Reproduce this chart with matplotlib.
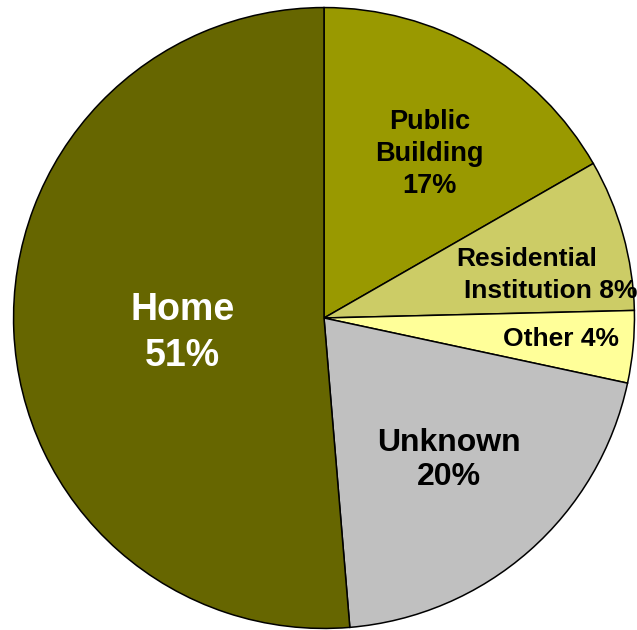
import numpy as np
import matplotlib.pyplot as plt

plt.rcParams['font.family'] = ['Liberation Sans', 'DejaVu Sans']

# slices, clockwise from 12 o'clock
categories = ['Public Building', 'Residential Institution', 'Other', 'Unknown', 'Home']
shares = [16.7, 7.9, 3.75, 20.3, 51.3]
labels = ['Public\nBuilding\n17%', 'Residential\nInstitution 8%', 'Other 4%', 'Unknown\n20%', 'Home\n51%']
colors = ['#999900', '#cccc66', '#ffff99', '#c0c0c0', '#666600']

fig = plt.figure(figsize=(6.37, 6.3), dpi=100)
ax = fig.add_axes([12/637, 0.0, 624/637, 624/630])

wedges, _ = ax.pie(shares, colors=colors, startangle=90, counterclock=False,
                   radius=1.0, wedgeprops=dict(edgecolor='black', linewidth=1.1))
ax.set_xlim(-1.005, 1.005)
ax.set_ylim(-1.005, 1.005)
ax.set_aspect('equal')
ax.axis('off')

def px(x, y):
    # pixel position in the picture -> data coords
    return (x - 324) / 312.0, (318 - y) / 312.0

# public building
x, y = px(430, 153)
ax.text(x, y, labels[0], ha='center', va='center', fontsize=19.5, fontweight='bold', linespacing=1.3)
# residential institution (two lines, offset)
l1, l2 = labels[1].split('\n')
x, y = px(528, 259)
ax.text(x, y, l1, ha='center', va='center', fontsize=19, fontweight='bold')
x, y = px(552, 291)
ax.text(x, y, l2, ha='center', va='center', fontsize=19, fontweight='bold')
# other
x, y = px(562, 339)
ax.text(x, y, labels[2], ha='center', va='center', fontsize=19, fontweight='bold')
# unknown
x, y = px(450, 461)
ax.text(x, y, labels[3], ha='center', va='center', fontsize=23, fontweight='bold', linespacing=1.17)
# home
x, y = px(182, 333)
ax.text(x, y, labels[4], ha='center', va='center', fontsize=27, fontweight='bold',
        color='white', linespacing=1.35)

fig.savefig('out.png', dpi=100)
